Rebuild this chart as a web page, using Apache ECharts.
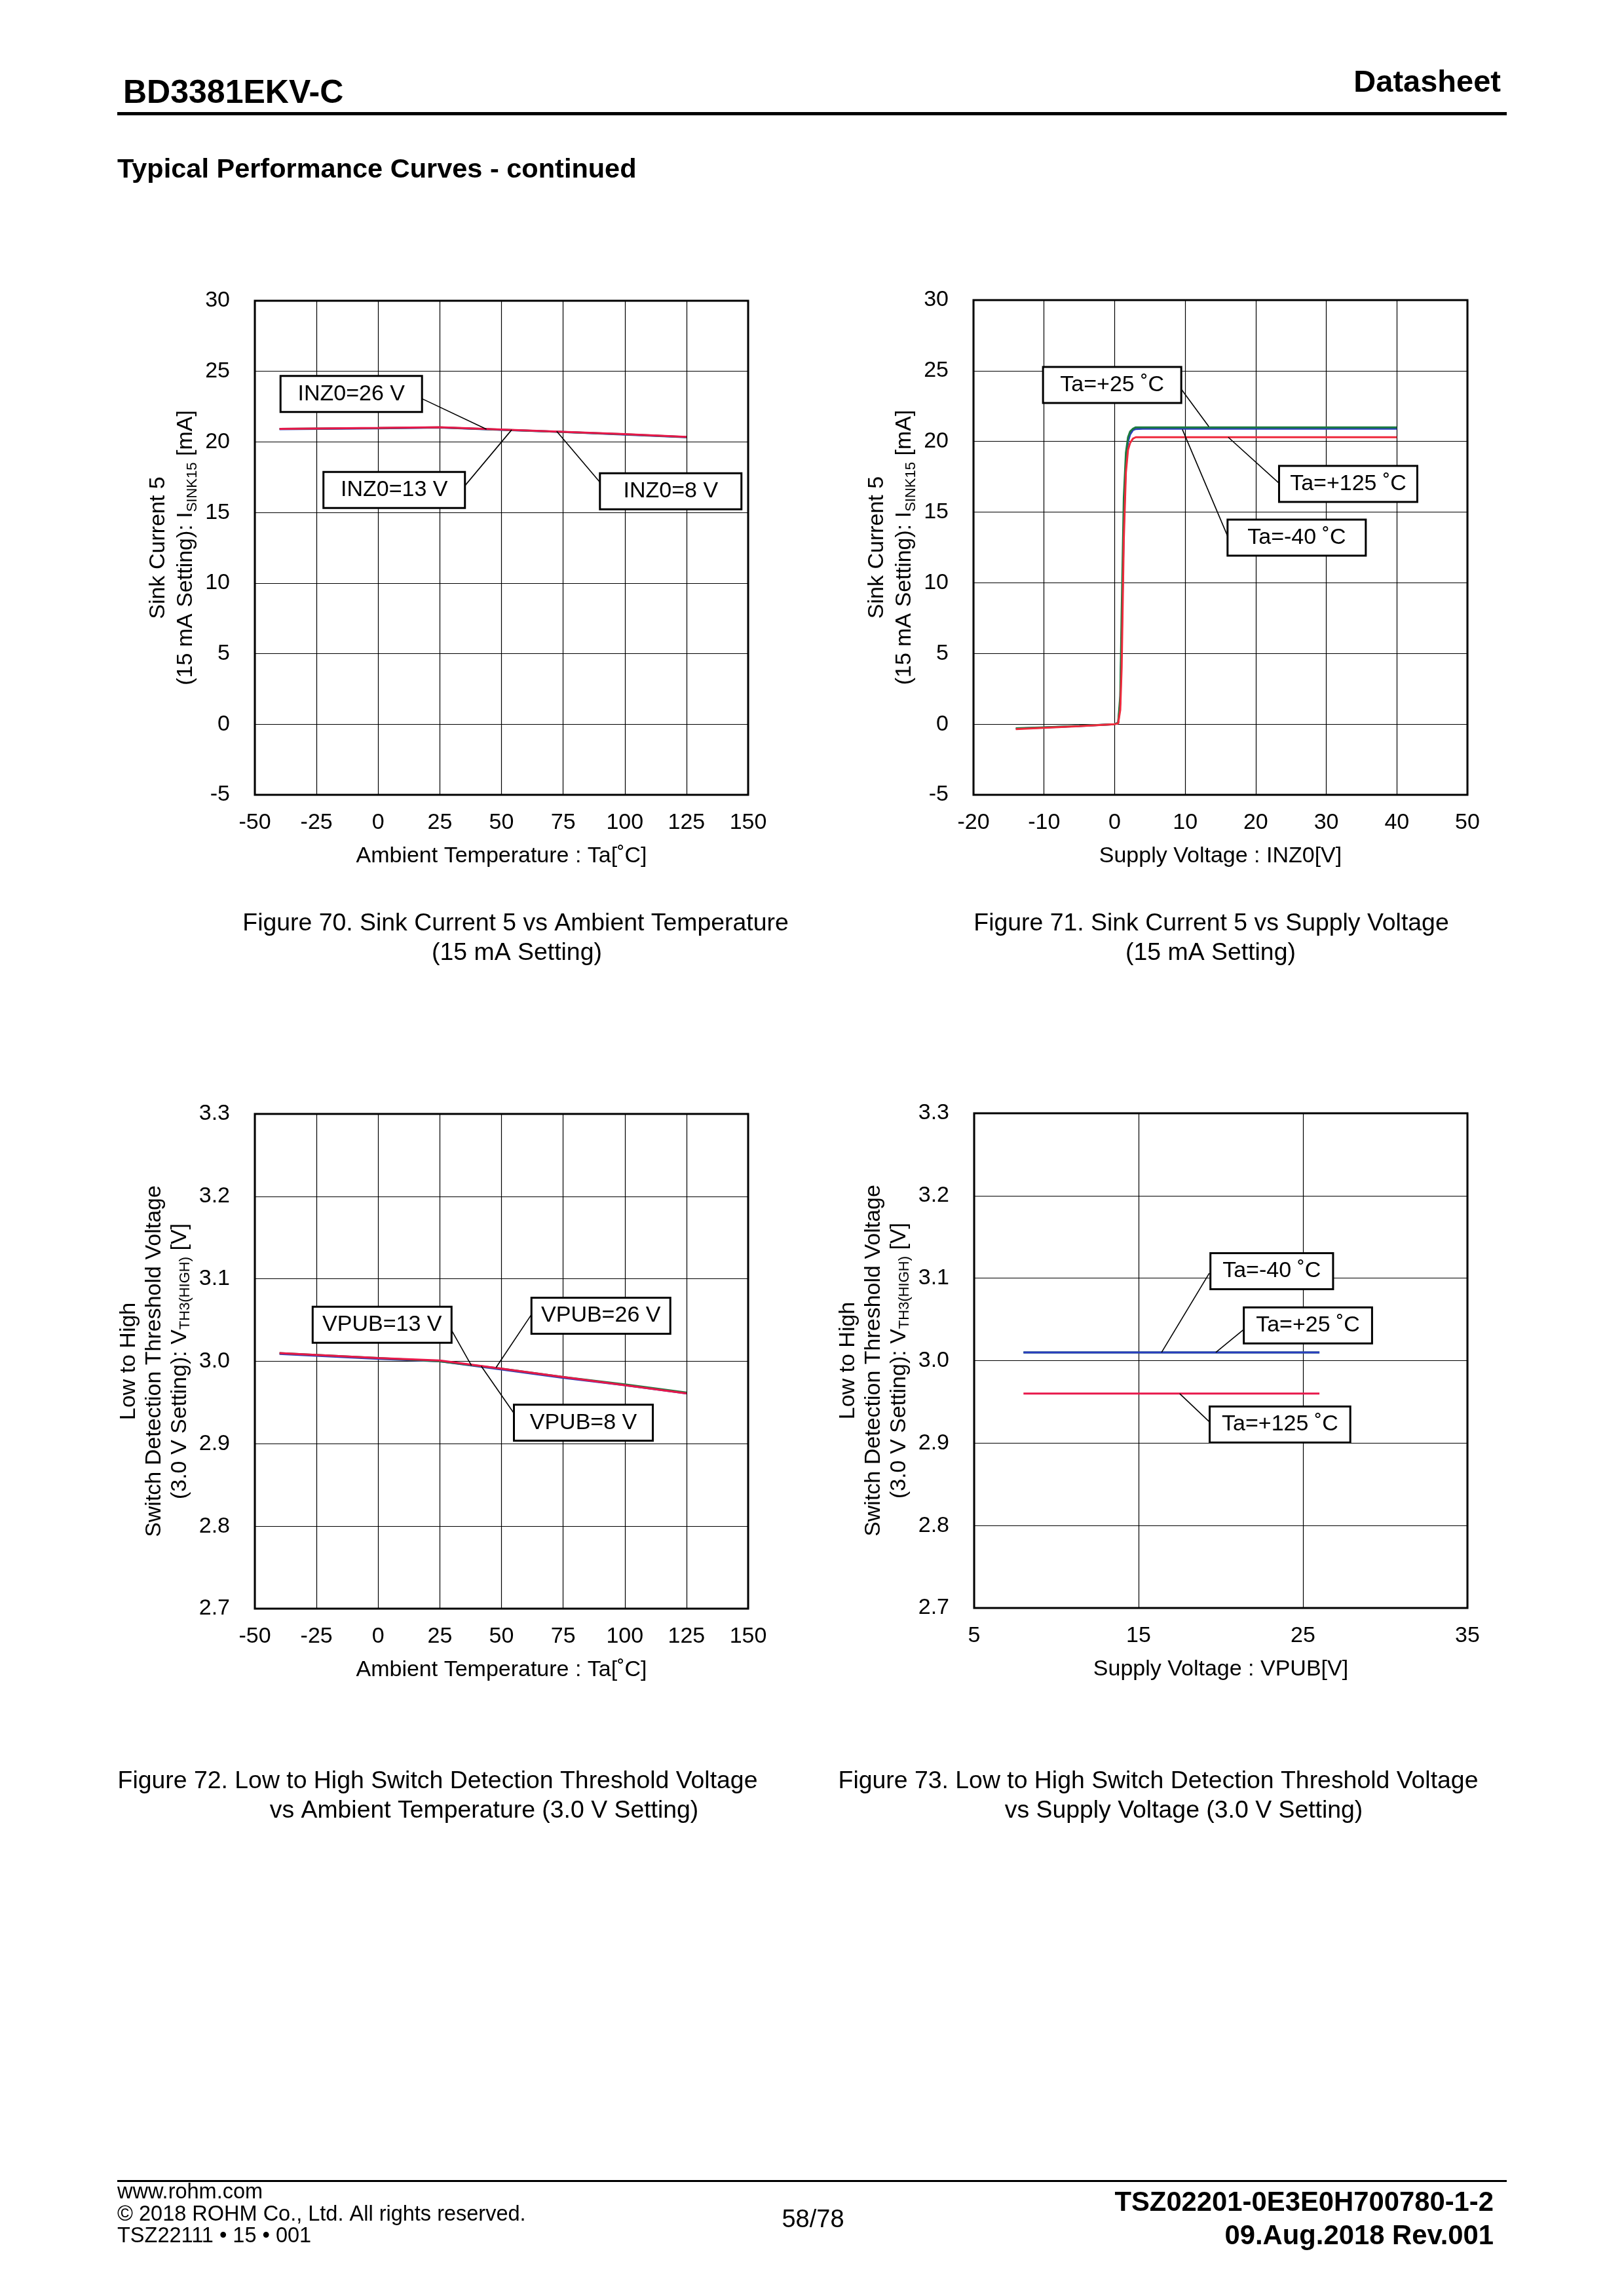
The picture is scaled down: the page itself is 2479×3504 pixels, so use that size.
<!DOCTYPE html>
<html><head><meta charset="utf-8">
<script src="https://cdn.jsdelivr.net/npm/echarts@6.0.0/dist/echarts.min.js"></script>
<style>html,body{margin:0;padding:0;background:#fff}#c{width:2479px;height:3504px}</style>
</head><body><div id="c"></div>
<script>
// ---------- Figure 70: Sink Current 5 vs Ambient Temperature ----------
const fig70Temp   = [-40, 0, 25, 50, 75, 100, 125];
const fig70Inz8   = [20.90, 20.96, 21.02, 20.86, 20.70, 20.52, 20.33];
const fig70Inz13  = [20.92, 20.98, 21.03, 20.87, 20.71, 20.54, 20.35];
const fig70Inz26  = [20.93, 20.99, 21.04, 20.88, 20.72, 20.55, 20.36];
const fig70XTicks = [-50, 150, 25];
const fig70YTicks = [-5, 30, 5];

// ---------- Figure 71: Sink Current 5 vs Supply Voltage ----------
const fig71Volt   = [-14, -10, -5, 0, 0.5, 0.8, 1.0, 1.3, 1.6, 1.9, 2.2, 2.6, 3.0, 4, 5, 10, 20, 30, 40];
const fig71TaM40  = [-0.32, -0.24, -0.13, 0, 0.08, 1.5, 6, 14, 18.5, 20.0, 20.5, 20.8, 20.88, 20.9, 20.9, 20.9, 20.9, 20.9, 20.9];
const fig71Ta25   = [-0.30, -0.22, -0.12, 0, 0.10, 2.0, 8, 16, 19.2, 20.3, 20.7, 20.9, 21.0, 21.0, 21.0, 21.0, 21.0, 21.0, 21.0];
const fig71Ta125  = [-0.35, -0.26, -0.14, 0, 0.05, 1.0, 4, 13, 17.8, 19.4, 19.9, 20.2, 20.3, 20.3, 20.3, 20.3, 20.3, 20.3, 20.3];
const fig71XTicks = [-20, 50, 10];
const fig71YTicks = [-5, 30, 5];

// ---------- Figure 72: VTH3(HIGH) vs Ambient Temperature ----------
const fig72Temp   = [-40, 0, 25, 50, 75, 100, 125];
const fig72Vpub8  = [3.009, 3.003, 3.000, 2.990, 2.980, 2.971, 2.961];
const fig72Vpub13 = [3.010, 3.004, 3.000, 2.991, 2.981, 2.972, 2.962];
const fig72Vpub26 = [3.010, 3.004, 3.001, 2.991, 2.981, 2.971, 2.961];
const fig72XTicks = [-50, 150, 25];
const fig72YTicks = [2.7, 3.3, 0.1];

// ---------- Figure 73: VTH3(HIGH) vs Supply Voltage ----------
const fig73Vpub   = [8, 10, 13, 16, 20, 23, 26];
const fig73TaM40  = [3.010, 3.010, 3.010, 3.010, 3.010, 3.010, 3.010];
const fig73Ta25   = [3.010, 3.010, 3.010, 3.010, 3.010, 3.010, 3.010];
const fig73Ta125  = [2.960, 2.960, 2.960, 2.960, 2.960, 2.960, 2.960];
const fig73XTicks = [5, 35, 10];
const fig73YTicks = [2.7, 3.3, 0.1];

// ---------- Callouts (data coordinates): [text, boxX, boxY, fromX, fromY, toX, toY] ----------
const fig70Notes = [
  ['INZ0=26 V', -10.9, 23.4, 17.3, 23.1, 43.9, 20.9],
  ['INZ0=13 V', 6.5, 16.6, 34.7, 16.8, 54.1, 20.85],
  ['INZ0=8 V', 118.6, 16.5, 90.6, 17.0, 72.4, 20.75]
];
const fig71Notes = [
  ['Ta=+25 ˚C', -0.35, 24.0, 9.3, 23.8, 13.35, 21.05],
  ['Ta=+125 ˚C', 33.1, 17.0, 23.4, 17.0, 16.1, 20.3],
  ['Ta=-40 ˚C', 25.8, 13.2, 16.1, 13.2, 9.6, 20.85]
];
const fig72Notes = [
  ['VPUB=13 V', 1.6, 3.0443, 29.3, 3.040, 37.8, 2.995],
  ['VPUB=26 V', 90.3, 3.0552, 62.6, 3.0587, 47.8, 2.9925],
  ['VPUB=8 V', 83.2, 2.9255, 55.5, 2.935, 41.8, 2.994]
];
const fig73Notes = [
  ['Ta=-40 ˚C', 23.1, 3.1084, 19.3, 3.106, 16.4, 3.010],
  ['Ta=+25 ˚C', 25.3, 3.0427, 21.4, 3.0379, 19.7, 3.010],
  ['Ta=+125 ˚C', 23.6, 2.9225, 19.4, 2.924, 17.5, 2.960]
];

const F = '"Liberation Sans", Arial, Helvetica, sans-serif';
const BLACK = '#000';
const RED = '#e8174a', GREEN = '#1b7a3e', BLUE = '#2a3cc0', RED2 = '#ee2a3c';

const zip = (xs, ys) => xs.map((x, i) => [x, ys[i]]);

const grids = [
  {left: 389, top: 459, width: 753, height: 754},
  {left: 1486, top: 458, width: 754, height: 755},
  {left: 389, top: 1700, width: 753, height: 755},
  {left: 1487, top: 1699, width: 753, height: 755}
].map(g => Object.assign(g, {show: true, borderColor: BLACK, borderWidth: 3, backgroundColor: 'transparent', containLabel: false, outerBoundsMode: 'none'}));

function xAx(gi, t, name) {
  return {type: 'value', gridIndex: gi, min: t[0], max: t[1], interval: t[2],
    name: name, nameLocation: 'middle', nameGap: 77,
    nameTextStyle: {fontSize: 34, fontFamily: F, color: BLACK},
    axisLine: {show: false}, axisTick: {show: false},
    axisLabel: {fontSize: 34, fontFamily: F, color: BLACK, margin: 26, showMinLabel: true, showMaxLabel: true, hideOverlap: false},
    splitLine: {show: true, lineStyle: {color: BLACK, width: 1.2}}};
}
function yAx(gi, t, name, gap, lh, dec) {
  return {type: 'value', gridIndex: gi, min: t[0], max: t[1], interval: t[2],
    name: name, nameLocation: 'middle', nameGap: gap, nameRotate: 90,
    nameTextStyle: {fontSize: 34, fontFamily: F, color: BLACK, lineHeight: lh, align: 'center',
      rich: {t: {fontSize: 34, fontFamily: F, color: BLACK, lineHeight: lh},
             s: {fontSize: 22, fontFamily: F, color: BLACK, lineHeight: 22, verticalAlign: 'bottom'}}},
    axisLine: {show: false}, axisTick: {show: false},
    axisLabel: {fontSize: 34, fontFamily: F, color: BLACK, margin: 38, showMinLabel: true, showMaxLabel: true, hideOverlap: false,
      formatter: v => dec ? v.toFixed(dec) : String(v)},
    splitLine: {show: true, lineStyle: {color: BLACK, width: 1.2}}};
}
function line(gi, data, color, w) {
  return {type: 'line', xAxisIndex: gi, yAxisIndex: gi, data: data, showSymbol: false, symbol: 'none',
    lineStyle: {color: color, width: w || 3}, itemStyle: {color: color}, silent: true, animation: false, z: 3};
}
function notes(gi, list, boxW, padX) {
  return {type: 'line', xAxisIndex: gi, yAxisIndex: gi, data: [], silent: true, animation: false, z: 10,
    markLine: {silent: true, symbol: ['none', 'none'], animation: false,
      lineStyle: {color: BLACK, width: 1.6, type: 'solid'}, label: {show: false}, emphasis: {disabled: true},
      data: list.map(n => [{coord: [n[3], n[4]]}, {coord: [n[5], n[6]]}])},
    markPoint: {silent: true, animation: false, symbol: 'circle', symbolSize: 0,
      label: {show: true, position: 'inside', formatter: '{b}', fontSize: 34, fontFamily: F, color: BLACK,
        backgroundColor: '#fff', borderColor: BLACK, borderWidth: 3, padding: [8, padX], lineHeight: 36,
        width: boxW, align: 'center', verticalAlign: 'middle'},
      emphasis: {disabled: true},
      data: list.map(n => ({name: n[0], coord: [n[1], n[2]], value: 0}))}};
}

function T(text, x, y, size, o) {
  o = o || {};
  return {type: 'text', x: x, y: y, silent: true, z: 100,
    style: {text: text, fill: BLACK, font: (o.bold ? 'bold ' : '') + size + 'px ' + F,
      align: o.align || 'left', verticalAlign: 'middle'}};
}

const graphics = [
  T('BD3381EKV-C', 188, 143, 50, {bold: true}),
  T('Datasheet', 2291, 127, 47, {bold: true, align: 'right'}),
  {type: 'rect', shape: {x: 179, y: 171, width: 2121, height: 5}, style: {fill: BLACK}, silent: true},
  T('Typical Performance Curves - continued', 179, 260, 41.5, {bold: true}),
  T('Figure 70. Sink Current 5 vs Ambient Temperature', 787, 1410, 37.4, {align: 'center'}),
  T('(15 mA Setting)', 789, 1455, 37.4, {align: 'center'}),
  T('Figure 71. Sink Current 5 vs Supply Voltage', 1849, 1410, 37.4, {align: 'center'}),
  T('(15 mA Setting)', 1848, 1455, 37.4, {align: 'center'}),
  T('Figure 72. Low to High Switch Detection Threshold Voltage', 668, 2719, 37.4, {align: 'center'}),
  T('vs Ambient Temperature (3.0 V Setting)', 739, 2764, 37.4, {align: 'center'}),
  T('Figure 73. Low to High Switch Detection Threshold Voltage', 1768, 2719, 37.4, {align: 'center'}),
  T('vs Supply Voltage (3.0 V Setting)', 1807, 2764, 37.4, {align: 'center'}),
  {type: 'rect', shape: {x: 179, y: 3327, width: 2121, height: 3}, style: {fill: BLACK}, silent: true},
  T('www.rohm.com', 179, 3346, 32.5),
  T('© 2018 ROHM Co., Ltd. All rights reserved.', 179, 3380, 32.5),
  T('TSZ22111 • 15 • 001', 179, 3413, 32.5),
  T('58/78', 1241, 3389, 38, {align: 'center'}),
  T('TSZ02201-0E3E0H700780-1-2', 2280, 3362, 41.8, {bold: true, align: 'right'}),
  T('09.Aug.2018 Rev.001', 2280, 3413, 41.8, {bold: true, align: 'right'})
];

const option = {
  backgroundColor: '#fff',
  animation: false,
  textStyle: {fontFamily: F},
  grid: grids,
  xAxis: [
    xAx(0, fig70XTicks, 'Ambient Temperature : Ta[˚C]'),
    xAx(1, fig71XTicks, 'Supply Voltage : INZ0[V]'),
    xAx(2, fig72XTicks, 'Ambient Temperature : Ta[˚C]'),
    xAx(3, fig73XTicks, 'Supply Voltage : VPUB[V]')
  ],
  yAxis: [
    yAx(0, fig70YTicks, '{t|Sink Current 5}\n{t|(15 mA Setting): I}{s|SINK15}{t| [mA]}', 84, 42, 0),
    yAx(1, fig71YTicks, '{t|Sink Current 5}\n{t|(15 mA Setting): I}{s|SINK15}{t| [mA]}', 84, 42, 0),
    yAx(2, fig72YTicks, '{t|Low to High}\n{t|Switch Detection Threshold Voltage}\n{t|(3.0 V Setting): V}{s|TH3(HIGH)}{t| [V]}', 95, 39, 1),
    yAx(3, fig73YTicks, '{t|Low to High}\n{t|Switch Detection Threshold Voltage}\n{t|(3.0 V Setting): V}{s|TH3(HIGH)}{t| [V]}', 95, 39, 1)
  ],
  series: [
    line(0, zip(fig70Temp, fig70Inz8), BLUE),
    line(0, zip(fig70Temp, fig70Inz13), GREEN),
    line(0, zip(fig70Temp, fig70Inz26), RED),
    notes(0, fig70Notes, 213, 0),
    line(1, zip(fig71Volt, fig71TaM40), BLUE),
    line(1, zip(fig71Volt, fig71Ta25), GREEN),
    line(1, zip(fig71Volt, fig71Ta125), RED2),
    notes(1, fig71Notes, 208, 0),
    line(2, zip(fig72Temp, fig72Vpub8), BLUE),
    line(2, zip(fig72Temp, fig72Vpub13), GREEN),
    line(2, zip(fig72Temp, fig72Vpub26), RED),
    notes(2, fig72Notes, 209, 0),
    line(3, zip(fig73Vpub, fig73Ta25), GREEN),
    line(3, zip(fig73Vpub, fig73TaM40), BLUE),
    line(3, zip(fig73Vpub, fig73Ta125), RED),
    notes(3, fig73Notes, undefined, 17)
  ],
  graphic: graphics
};

const chart = echarts.init(document.getElementById('c'), null, {renderer: 'canvas', width: 2479, height: 3504});
chart.setOption(option);
</script>
</body></html>
